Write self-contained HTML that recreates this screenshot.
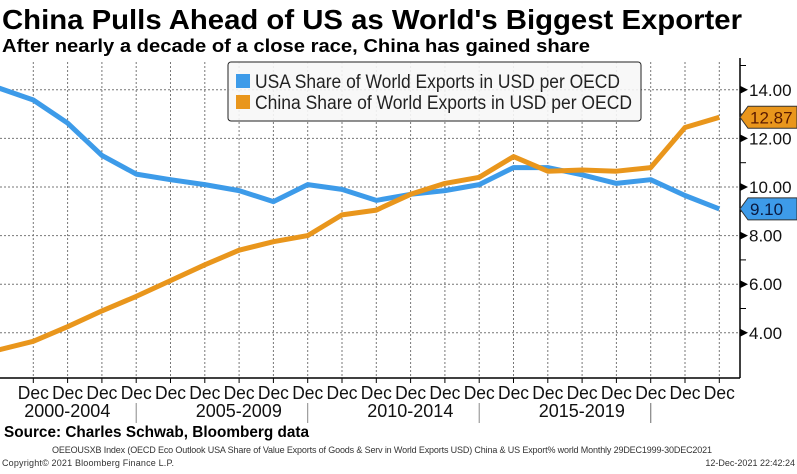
<!DOCTYPE html>
<html><head><meta charset="utf-8"><style>
body{margin:0;background:#fff;width:797px;height:469px;overflow:hidden;font-family:"Liberation Sans",sans-serif}
</style></head><body>
<svg width="797" height="469" viewBox="0 0 797 469" xmlns="http://www.w3.org/2000/svg">
<text x="2" y="29" font-size="28" font-weight="bold" fill="#000" textLength="740" lengthAdjust="spacingAndGlyphs">China Pulls Ahead of US as World's Biggest Exporter</text>
<text x="2" y="52" font-size="18" font-weight="bold" fill="#000" textLength="588" lengthAdjust="spacingAndGlyphs">After nearly a decade of a close race, China has gained share</text>
<g id="grid"></g>
<g id="series"></g>
<g id="axis"></g>
<g id="xaxis"></g>
<g>
<rect x="228" y="62" width="413" height="59" rx="3" fill="#f7f7f7" fill-opacity="0.9" stroke="#222" stroke-width="1"/>
<rect x="236" y="74" width="14" height="14" fill="#3d9be9"/>
<text x="255" y="88" font-size="19" fill="#222" textLength="365" lengthAdjust="spacingAndGlyphs">USA Share of World Exports in USD per OECD</text>
<rect x="236" y="95" width="14" height="14" fill="#e9961c"/>
<text x="255" y="109" font-size="19" fill="#222" textLength="377" lengthAdjust="spacingAndGlyphs">China Share of World Exports in USD per OECD</text>
</g>
<text x="4" y="437" font-size="16" font-weight="bold" textLength="305" lengthAdjust="spacingAndGlyphs">Source: Charles Schwab, Bloomberg data</text>
<text x="52" y="453" font-size="9" fill="#333" textLength="660">OEEOUSXB Index (OECD Eco Outlook USA Share of Value Exports of Goods &amp; Serv in World Exports USD) China &amp; US Export% world  Monthly 29DEC1999-30DEC2021</text>
<text x="2" y="466" font-size="9" fill="#333" textLength="172">Copyright© 2021 Bloomberg Finance L.P.</text>
<text x="795" y="466" font-size="9" fill="#333" text-anchor="end">12-Dec-2021 22:42:24</text>
</svg>
<script>
const years=[2000,2001,2002,2003,2004,2005,2006,2007,2008,2009,2010,2011,2012,2013,2014,2015,2016,2017,2018,2019,2020,2021];
const usa=[14.07,13.58,12.63,11.3,10.53,10.3,10.1,9.85,9.4,10.1,9.9,9.45,9.7,9.85,10.1,10.8,10.8,10.5,10.15,10.3,9.65,9.1];
const china=[3.3,3.65,4.25,4.9,5.5,6.15,6.8,7.4,7.75,8.0,8.85,9.05,9.7,10.15,10.4,11.25,10.65,10.7,10.65,10.8,12.45,12.87];
const yTicks=[4,6,8,10,12,14];
const yTickLabels=["4.00","6.00","8.00","10.00","12.00","14.00"];
const groupLabels=["2000-2004","2005-2009","2010-2014","2015-2019"];
const NS="http://www.w3.org/2000/svg";
const X0=-1,DX=34.3,AXX=740,TOP=62,BOT=378;
function xs(i){return X0+DX*i;}
function ys(v){return 187-(v-10)*24.3;}
function mk(tag,attrs,parent){const e=document.createElementNS(NS,tag);for(const k in attrs)e.setAttribute(k,attrs[k]);parent.appendChild(e);return e;}
const grid=document.getElementById('grid'),ser=document.getElementById('series'),ax=document.getElementById('axis'),xa=document.getElementById('xaxis');
yTicks.forEach((t,k)=>{
 const l=mk('line',{x1:0,x2:AXX,y1:ys(t),y2:ys(t),stroke:'#777','stroke-dasharray':'2,2','stroke-width':1},grid);
 
 
 const p=mk('path',{d:`M${AXX} ${ys(t)-4}L${AXX+8} ${ys(t)}L${AXX} ${ys(t)+4}Z`,fill:'#000'},ax);
 
 
 const tx=mk('text',{x:AXX+9,y:ys(t)+6,'font-size':17,fill:'#111'},ax);tx.textContent=yTickLabels[k];
 
 
 const m=mk('line',{x1:AXX,x2:AXX+6,y1:ys(t+1),y2:ys(t+1),stroke:'#000'},ax);
 
 
});
years.forEach((y,i)=>{
 if(i>0){const l=mk('line',{x1:xs(i),x2:xs(i),y1:TOP,y2:BOT,stroke:'#777','stroke-dasharray':'2,2','stroke-width':1},grid);
 
 
 const tk=mk('line',{x1:xs(i),x2:xs(i),y1:BOT,y2:BOT+5,stroke:'#000'},xa);
 
 
 const tx=mk('text',{x:xs(i),y:BOT+21,'font-size':18,'text-anchor':'middle',fill:'#111',textLength:31,lengthAdjust:'spacingAndGlyphs'},xa);tx.textContent='Dec';
 
 }
});
mk('line',{x1:AXX,x2:AXX,y1:TOP-4,y2:BOT,stroke:'#000','stroke-width':1.5},ax);
mk('line',{x1:0,x2:AXX,y1:BOT,y2:BOT,stroke:'#000','stroke-width':1.5},xa);
groupLabels.forEach((g,k)=>{
 const tx=mk('text',{x:xs(5*k+1)+34,y:BOT+39,'font-size':18,'text-anchor':'middle',fill:'#111'},xa);tx.textContent=g;
 
 
 const s=mk('line',{x1:xs(5*k+4),x2:xs(5*k+4),y1:BOT+25,y2:BOT+45,stroke:'#888'},xa);
 
 
});
const s2=mk('line',{x1:xs(19),x2:xs(19),y1:BOT+25,y2:BOT+45,stroke:'#888'},xa);
function line(arr,color,name){
 const d=arr.map((v,i)=>(i?'L':'M')+xs(i).toFixed(1)+' '+ys(v).toFixed(1)).join('');
 const p=mk('path',{d:d,fill:'none',stroke:color,'stroke-width':5,'stroke-linejoin':'round'},ser);
 
 
}
line(usa,'#3d9be9','usa-line');
line(china,'#e9961c','china-line');
function tag(v,color,txtColor,name){
 const y=ys(v);
 const p=mk('path',{d:`M${AXX} ${y}L${AXX+8} ${y-11}L797 ${y-11}L797 ${y+11}L${AXX+8} ${y+11}Z`,fill:color,stroke:'#333','stroke-width':1},ax);
 
 
 const t=mk('text',{x:AXX+10,y:y+6,'font-size':17,fill:txtColor},ax);t.textContent=v.toFixed(2);
 
 
}
tag(china[china.length-1],'#e9961c','#5a1a00','china-last-value');
tag(usa[usa.length-1],'#3d9be9','#0a1a40','usa-last-value');
</script>
</body></html>
